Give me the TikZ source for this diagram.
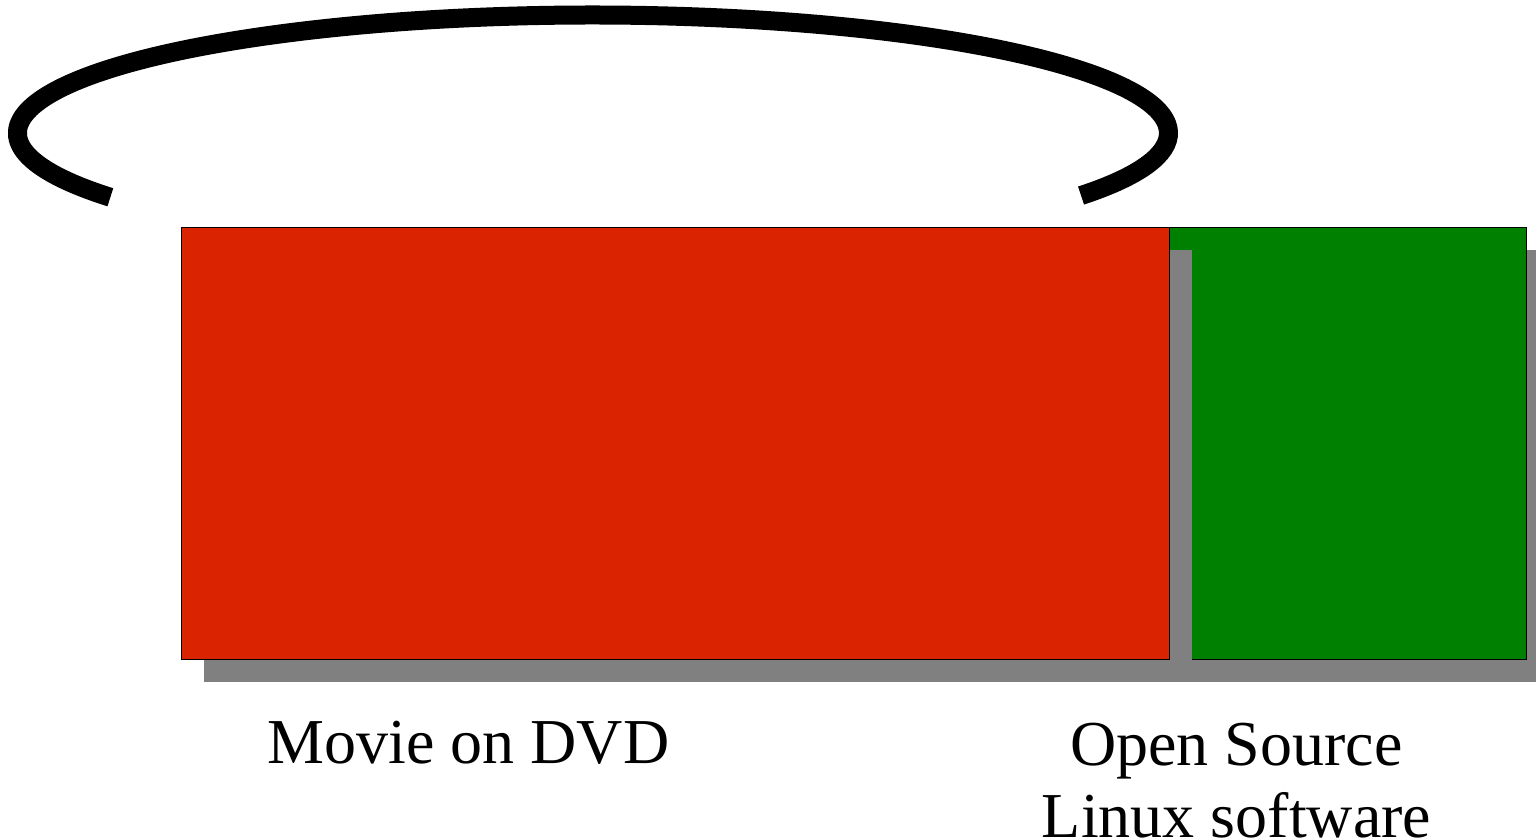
\documentclass[tikz,border=0pt]{standalone}
\usepackage{fontspec}
\setmainfont{Liberation Serif}
\usetikzlibrary{calc}
\definecolor{dvdred}{RGB}{218,35,0}
\definecolor{linuxgreen}{RGB}{0,128,0}
\definecolor{shadowgray}{RGB}{128,128,128}
\begin{document}
\begin{tikzpicture}[x=1pt,y=-1pt,
    box/.style={draw=black,line width=0.9pt},
    boxshadow/.style={fill=shadowgray},
    caption/.style={inner sep=0pt,anchor=base,align=center,
      font=\fontsize{64}{72}\selectfont}]
    \useasboundingbox[fill=white] (0,0) rectangle (1536,839);
    \coordinate (Offset)     at (23,23);% Shadow offset
    \coordinate (GreenNW)    at (950,227);
    \coordinate (GreenSE)    at (1526,659);
    \coordinate (RedNW)      at (181,227);
    \coordinate (RedSE)      at (1169,659);
    \coordinate (ArcCentre)  at (593,133);
    % Green box and its shadow
    \fill [boxshadow] ($(GreenNW)+(Offset)$) rectangle ($(GreenSE)+(Offset)$);
    \filldraw [box,fill=linuxgreen] (GreenNW) rectangle (GreenSE);
    % Red box and its shadow
    \fill [boxshadow] ($(RedNW)+(Offset)$) rectangle ($(RedSE)+(Offset)$);
    \filldraw [box,fill=dvdred] (RedNW) rectangle (RedSE);
    % The loop above the boxes
    \draw [line width=19pt,black]
      ($(ArcCentre)+(147:575.5 and 118)$)
      arc [start angle=147,end angle=392,x radius=575.5,y radius=118];
    \node [caption] (movie) at (468.5,763) {Movie on DVD};
    \node [caption] (linux) at (1236.5,837) {Open Source\\Linux software};% base is the last line
\end{tikzpicture}
\end{document}
